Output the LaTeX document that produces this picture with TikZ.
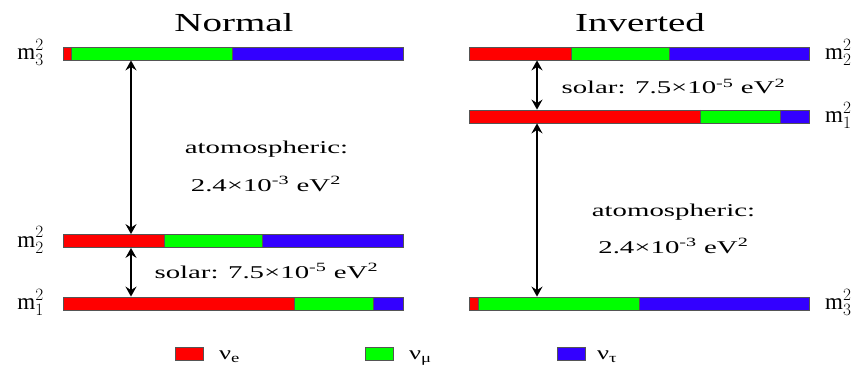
\documentclass[tikz,border=0pt]{standalone}
\usepackage{fontspec}
\setmainfont{Liberation Serif}
\usepackage{graphicx}
\usetikzlibrary{arrows.meta}

\definecolor{nue}{RGB}{255,0,0}
\definecolor{numu}{RGB}{0,255,0}
\definecolor{nutau}{RGB}{51,0,255}
\definecolor{edge}{RGB}{85,85,85}

% one mass state: name, left x, centre y, end of red part, end of green part
\newcommand{\massbar}[5]{%
  \fill[nue] (#2,#3-6.5) rectangle (#4,#3+6.5);
  \fill[numu] (#4,#3-6.5) rectangle (#5,#3+6.5);
  \fill[nutau] (#5,#3-6.5) rectangle (#2+340,#3+6.5);
  \draw[edge, line width=0.8pt] (#4,#3-6.5) -- (#4,#3+6.5) (#5,#3-6.5) -- (#5,#3+6.5);
  \node[massbox] (#1) at (#2+170,#3) {};
}
\newcommand{\wide}[2]{\scalebox{#1}[1]{#2}}

\begin{document}
\begin{tikzpicture}[x=1pt, y=-1pt, >={Stealth[length=10pt, width=11pt, inset=3.5pt]},
  massbox/.style={draw=edge, line width=0.8pt, minimum width=340pt, minimum height=13pt, inner sep=0pt},
  mlabel/.style={font=\fontsize{23}{25}\selectfont, inner sep=0pt},
  heading/.style={font=\fontsize{26}{28}\selectfont, inner sep=0pt, anchor=base},
  gapnote/.style={font=\fontsize{18}{20}\selectfont, inner sep=0pt, anchor=base},
  split/.style={<->, line width=2.4pt},
  keybox/.style={draw=edge, line width=0.8pt, minimum width=28pt, minimum height=13pt, inner sep=0pt},
  keytext/.style={font=\fontsize{19}{21}\selectfont, inner sep=0pt, anchor=base west}]
  \useasboundingbox (0,0) rectangle (861,374);

  % normal ordering
  \node[heading] (normal) at (234,32) {\wide{1.5}{Normal}};
  \massbar{n3}{63}{53.5}{71.5}{232}
  \massbar{n2}{63}{241}{164}{262}
  \massbar{n1}{63}{303.5}{294}{373}
  \node[mlabel, anchor=base east] (ln3) at (44,59.5) {$\mathrm{m}^2_3$};
  \node[mlabel, anchor=base east] (ln2) at (44,247) {$\mathrm{m}^2_2$};
  \node[mlabel, anchor=base east] (ln1) at (44,309.5) {$\mathrm{m}^2_1$};
  \coordinate (nax) at (131,0);
  \draw[split] (n3.south -| nax) -- (n2.north -| nax);
  \draw[split] (n2.south -| nax) -- (n1.north -| nax);
  \node[gapnote] (natm) at (266.5,154) {\wide{1.6}{atomospheric:}};
  \node[gapnote] (natmval) at (266,191) {\wide{1.6}{2.4×10\textsuperscript{-3} eV\textsuperscript{2}}};
  \node[gapnote] (nsol) at (266.5,278) {\wide{1.6}{solar: 7.5×10\textsuperscript{-5} eV\textsuperscript{2}}};

  % inverted ordering
  \node[heading] (inverted) at (640,32) {\wide{1.5}{Inverted}};
  \massbar{i2}{469.5}{53.5}{571}{669}
  \massbar{i1}{469.5}{116.5}{700}{780}
  \massbar{i3}{469.5}{303.5}{478}{639}
  \node[mlabel, anchor=base west] (li2) at (825,59.5) {$\mathrm{m}^2_2$};
  \node[mlabel, anchor=base west] (li1) at (825,122.5) {$\mathrm{m}^2_1$};
  \node[mlabel, anchor=base west] (li3) at (825,309.5) {$\mathrm{m}^2_3$};
  \coordinate (iax) at (537,0);
  \draw[split] (i2.south -| iax) -- (i1.north -| iax);
  \draw[split] (i1.south -| iax) -- (i3.north -| iax);
  \node[gapnote] (isol) at (673.5,93.5) {\wide{1.6}{solar: 7.5×10\textsuperscript{-5} eV\textsuperscript{2}}};
  \node[gapnote] (iatm) at (673.5,216) {\wide{1.6}{atomospheric:}};
  \node[gapnote] (iatmval) at (673.5,253) {\wide{1.6}{2.4×10\textsuperscript{-3} eV\textsuperscript{2}}};

  % flavour key
  \node[keybox, fill=nue] (ke) at (189,353.5) {};
  \node[keybox, fill=numu] (kmu) at (379.5,353.5) {};
  \node[keybox, fill=nutau] (ktau) at (571,353.5) {};
  \node[keytext] (le) at (219,359.5) {\wide{1.4}{ν\textsubscript{e}}};
  \node[keytext] (lmu) at (409,359.5) {\wide{1.4}{ν\textsubscript{μ}}};
  \node[keytext] (ltau) at (597,359.5) {\wide{1.4}{ν\textsubscript{τ}}};
\end{tikzpicture}
\end{document}
